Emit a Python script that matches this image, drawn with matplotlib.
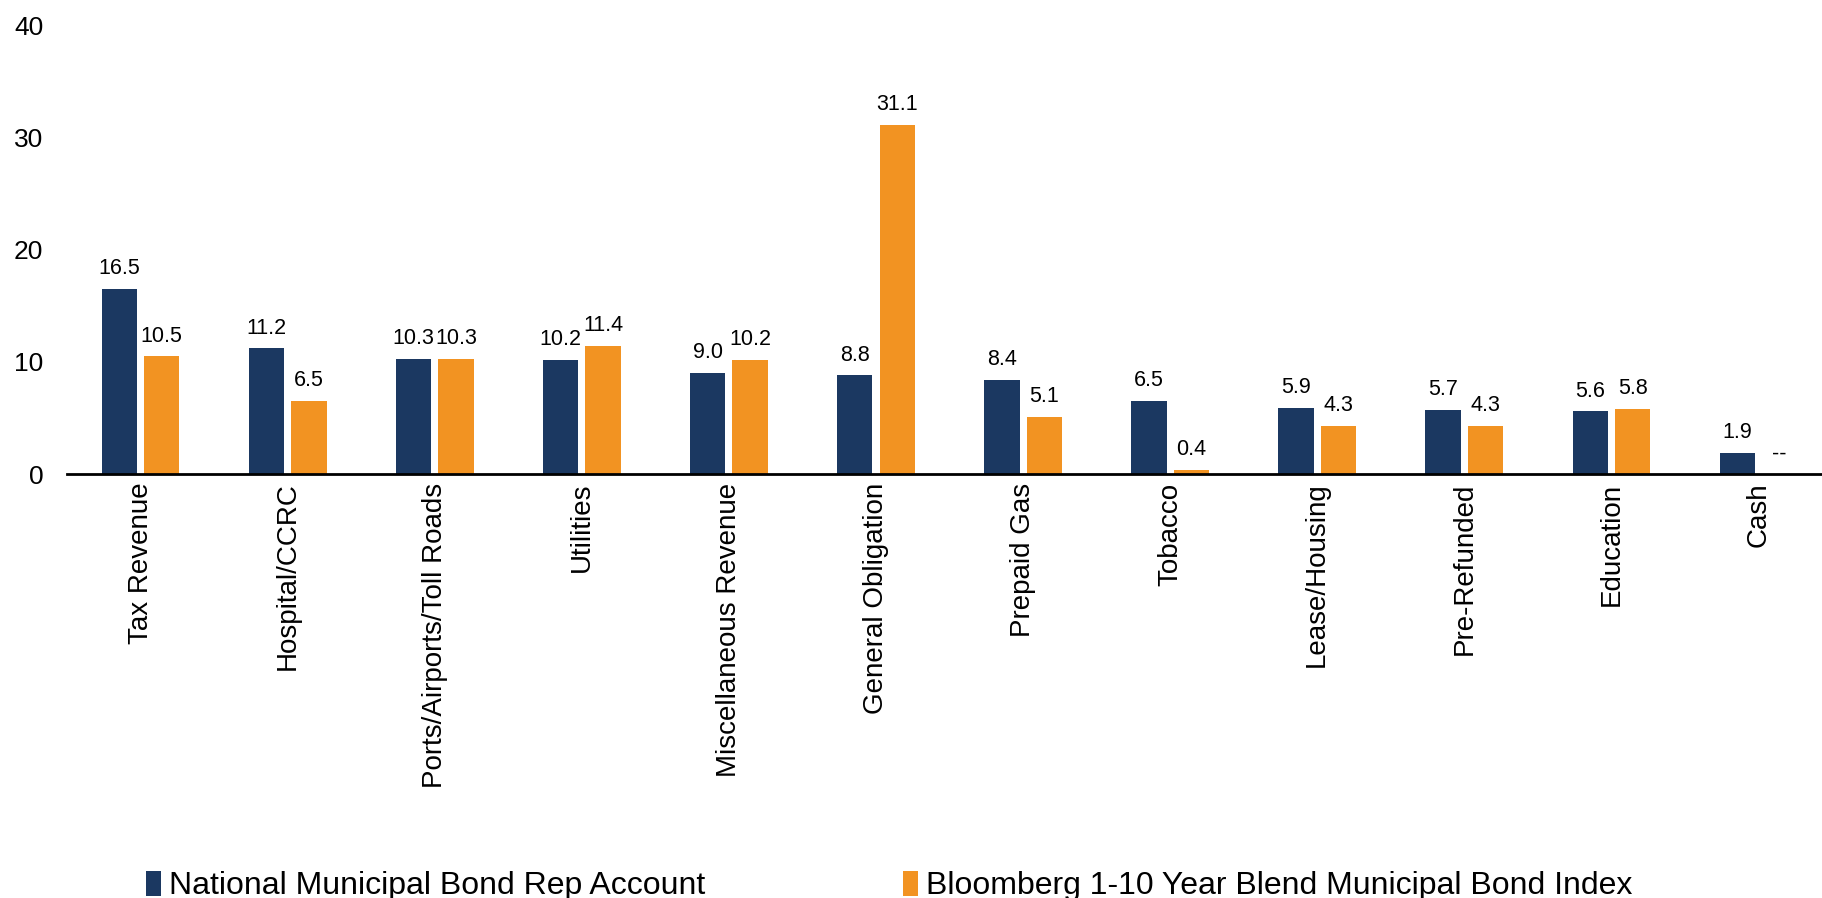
import numpy as np
import matplotlib.pyplot as plt

plt.rcParams['font.family'] = ['Liberation Sans', 'DejaVu Sans']

# Sector weights (%)
categories = ['Tax Revenue', 'Hospital/CCRC', 'Ports/Airports/Toll Roads', 'Utilities',
              'Miscellaneous Revenue', 'General Obligation', 'Prepaid Gas', 'Tobacco',
              'Lease/Housing', 'Pre-Refunded', 'Education', 'Cash']
rep_account = [16.5, 11.2, 10.3, 10.2, 9.0, 8.8, 8.4, 6.5, 5.9, 5.7, 5.6, 1.9]
bbg_index = [10.5, 6.5, 10.3, 11.4, 10.2, 31.1, 5.1, 0.4, 4.3, 4.3, 5.8, np.nan]

navy = '#1B3861'
orange = '#F29322'

fig = plt.figure(figsize=(18.22, 8.98), dpi=100)
ax = fig.add_axes([0.0368, 0.472, 0.9687, 0.5])

x = np.arange(len(categories))
w = 0.24
off = 0.144
b1 = ax.bar(x - off, rep_account, w, color=navy, label='National Municipal Bond Rep Account')
b2 = ax.bar(x + off, np.nan_to_num(bbg_index), w, color=orange,
            label='Bloomberg 1-10 Year Blend Municipal Bond Index')

# data labels
for xi, v in zip(x, rep_account):
    ax.annotate(f'{v:.1f}', (xi - off, v), xytext=(0, 7), textcoords='offset points',
                ha='center', va='bottom', fontsize=15.5)
for xi, v in zip(x, bbg_index):
    txt = '--' if np.isnan(v) else f'{v:.1f}'
    yv = 0 if np.isnan(v) else v
    ax.annotate(txt, (xi + off, yv), xytext=(0, 7), textcoords='offset points',
                ha='center', va='bottom', fontsize=15.5)

ax.set_xlim(-0.5, len(categories) - 0.5)
ax.set_ylim(0, 40)
ax.set_yticks([0, 10, 20, 30, 40])
ax.set_xticks(x)
ax.set_xticklabels(categories, rotation=90, fontsize=20)
ax.tick_params(axis='y', length=0, pad=17, labelsize=19)
ax.tick_params(axis='x', length=0, pad=6)

for s in ['top', 'right', 'left']:
    ax.spines[s].set_visible(False)
ax.spines['bottom'].set_linewidth(2)
ax.spines['bottom'].set_color('black')

fig.legend(handles=[b1, b2], loc='center left', bbox_to_anchor=(0.080, 0.013),
           ncol=2, frameon=False, fontsize=23, handlelength=0.47, handleheight=0.8,
           handletextpad=0.25, columnspacing=6.2, borderpad=0, borderaxespad=0)

fig.savefig('out.png', dpi=100)
